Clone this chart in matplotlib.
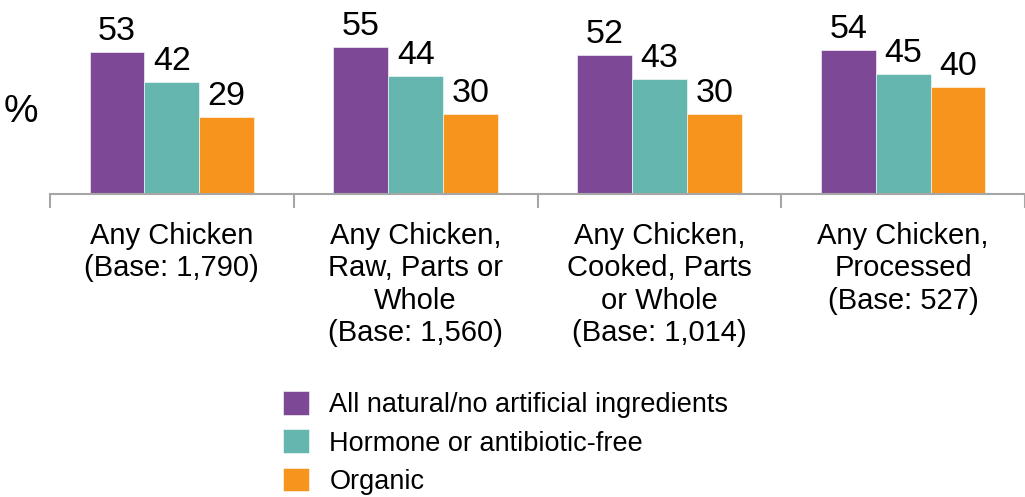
import matplotlib
matplotlib.use('Agg')
import matplotlib.pyplot as plt
import numpy as np

plt.rcParams['font.family'] = ['Liberation Sans', 'DejaVu Sans']

categories = [
    "Any Chicken\n(Base: 1,790)",
    "Any Chicken,\nRaw, Parts or\nWhole\n(Base: 1,560)",
    "Any Chicken,\nCooked, Parts\nor Whole\n(Base: 1,014)",
    "Any Chicken,\nProcessed\n(Base: 527)",
]
series_names = [
    "All natural/no artificial ingredients",
    "Hormone or antibiotic-free",
    "Organic",
]
natural = [53, 55, 52, 54]
hormone_free = [42, 44, 43, 45]
organic = [29, 30, 30, 40]

colors = ['#7D4997', '#64B6AE', '#F7941E']

fig = plt.figure(figsize=(10.25, 4.97), dpi=100)
ax = fig.add_axes([50/1025, 1 - 194/497, 975/1025, 187/497])

x = np.arange(len(categories))
w = 0.225
bars = []
for k, (vals, name, c) in enumerate(zip([natural, hormone_free, organic], series_names, colors)):
    b = ax.bar(x + (k - 1) * w, vals, w, color=c, edgecolor='white', linewidth=0.4, label=name)
    bars.append(b)
    for xi, v in zip(x + (k - 1) * w, vals):
        ax.annotate(str(v), (xi, v), xytext=(0, 12), textcoords='offset pixels',
                    ha='center', va='baseline', fontsize=24.5)

ax.set_xlim(-0.5, 3.5)
ax.set_ylim(0, 70)
for s in ['top', 'right', 'left']:
    ax.spines[s].set_visible(False)
ax.spines['bottom'].set_color('#A6A6A6')
ax.spines['bottom'].set_linewidth(1.5)
ax.set_yticks([])

ax.set_xticks([-0.5, 0.5, 1.5, 2.5, 3.5])
ax.set_xticklabels([])
ax.tick_params(axis='x', which='major', length=10, width=1.5, color='#A6A6A6', direction='out')
ax.set_xticks(x, minor=True)
ax.set_xticklabels(categories, minor=True, fontsize=21)
ax.tick_params(axis='x', which='minor', length=0, pad=20)

fig.text(21/1025, 1 - 112/497, '%', ha='center', va='center', fontsize=28)

fig.legend(handles=bars, labels=series_names, loc='upper left',
           bbox_to_anchor=(283/1025, 1 - 391/497), frameon=False, fontsize=19.5,
           handlelength=0.96, handleheight=0.96, handletextpad=0.75,
           labelspacing=0.42, borderpad=0, borderaxespad=0)

fig.savefig('out.png', dpi=100)
